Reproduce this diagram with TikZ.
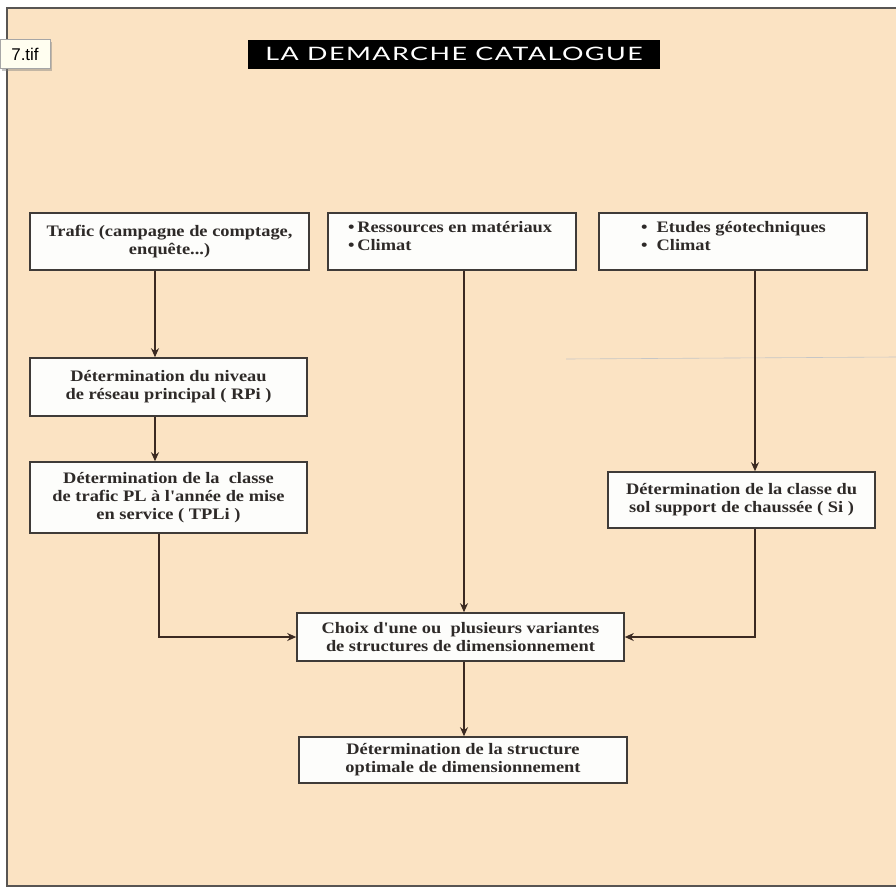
\documentclass[tikz,border=0pt]{standalone}
\usepackage{fontspec}
\setmainfont{Liberation Serif}
\newfontfamily\boxfont[FakeStretch=1.15]{Liberation Serif}
\newfontfamily\titlefont[LetterSpace=8,FakeStretch=1.45]{Lato}
\newfontfamily\tagfont{Liberation Sans}
\usetikzlibrary{arrows.meta,shadows}
\definecolor{paper}{HTML}{FBE3C3}
\definecolor{ink}{HTML}{2E2A28}
\definecolor{edge}{HTML}{3F3B38}
\definecolor{arrowc}{HTML}{3B2A22}
\definecolor{boxfill}{HTML}{FDFDFB}
\tikzset{
  box/.style={draw=edge, line width=1.6pt, fill=boxfill, inner sep=0pt, font=\boxfont\bfseries\fontsize{16}{18}\selectfont, text=ink, align=center},
  boxtxt/.style={inner sep=0pt, font=\boxfont\bfseries\fontsize{16}{18}\selectfont, text=ink, align=left, anchor=north west},
  arr/.style={draw=arrowc, line width=1.3pt, -{Stealth[length=9pt,width=8pt]}},
}
\begin{document}
\begin{tikzpicture}[x=1pt,y=1pt]
\useasboundingbox (0,0) rectangle (896,-889);
\fill[white] (0,0) rectangle (896,-889);
\fill[paper] (7,-8) rectangle (896,-886);
\draw[ink!80, line width=1.5pt] (896,-8) -- (7,-8) -- (7,-886) -- (896,-886);
\draw[gray!45, line width=0.6pt] (566,-359) -- (896,-357);
% tag
\node[draw=gray!70, fill=yellow!6, line width=0.6pt, minimum width=50pt, minimum height=29pt, inner sep=0pt, font=\tagfont\fontsize{17}{17}\selectfont, drop shadow={shadow xshift=2pt, shadow yshift=-2pt, opacity=0.45}] (tag) at (25,-54) {7.tif};
% title
\node[fill=black, text=white, minimum width=412pt, minimum height=29pt, inner sep=0pt, font=\titlefont\fontsize{18.5}{18.5}\selectfont] (title) at (454,-54) {LA DEMARCHE CATALOGUE};
% boxes
\node[box, minimum width=279pt, minimum height=57pt] (trafic) at (169.5,-241.5) {Trafic (campagne de comptage,\\enquête...)};
\node[box, minimum width=248pt, minimum height=57pt] (ress) at (452,-241.5) {};
\node[boxtxt] (resstxt) at (348,-221) {•\,Ressources en matériaux\\•\,Climat};
\node[box, minimum width=268pt, minimum height=57pt] (etudes) at (733,-241.5) {};
\node[boxtxt] (etudestxt) at (641,-221) {•\hspace{9pt}Etudes géotechniques\\•\hspace{9pt}Climat};
\node[box, minimum width=277pt, minimum height=58pt] (niveau) at (168.5,-387) {Détermination du niveau\\de réseau principal ( RPi )};
\node[box, minimum width=277pt, minimum height=71pt] (classe) at (168.5,-497.5) {Détermination de la\ \ classe\\de trafic PL à l'année de mise\\en service ( TPLi )};
\node[box, minimum width=267pt, minimum height=56pt] (sol) at (741.5,-500) {Détermination de la classe du\\sol support de chaussée ( Si )};
\node[box, minimum width=327pt, minimum height=48pt] (choix) at (460.5,-637) {Choix d'une ou\ \ plusieurs variantes\\de structures de dimensionnement};
\node[box, minimum width=328pt, minimum height=46pt] (optim) at (463,-760) {Détermination de la structure\\optimale de dimensionnement};
% connectors
\coordinate (xa) at (155,0);
\coordinate (xb) at (159,0);
\coordinate (xm) at (464,0);
\coordinate (xc) at (755,0);
\draw[arr] (trafic.south -| xa) -- (niveau.north -| xa);
\draw[arr] (niveau.south -| xa) -- (classe.north -| xa);
\draw[arr] (classe.south -| xb) |- (choix.west);
\draw[arr] (ress.south -| xm) -- (choix.north -| xm);
\draw[arr] (etudes.south -| xc) -- (sol.north -| xc);
\draw[arr] (sol.south -| xc) |- (choix.east);
\draw[arr] (choix.south -| xm) -- (optim.north -| xm);
\end{tikzpicture}
\end{document}
